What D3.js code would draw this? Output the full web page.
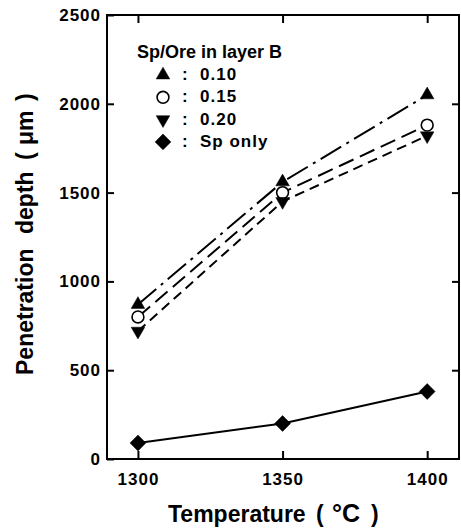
<!DOCTYPE html>
<html>
<head>
<meta charset="utf-8">
<script src="https://cdn.jsdelivr.net/npm/d3@7"></script>
<style>
  html, body { margin: 0; padding: 0; background: #fff; }
  svg { display: block; font-family: "Liberation Sans", Arial, sans-serif; font-weight: bold; }
</style>
</head>
<body>
<svg id="chart" width="461" height="531"></svg>
<script>
// Temperatures (°C) on the x axis
const temperatures = [1300, 1350, 1400];
// Penetration depth (µm) for each Sp/Ore ratio in layer B
const ratio010 = [870, 1560, 2050];
const ratio015 = [800, 1500, 1880];
const ratio020 = [720, 1450, 1820];
const spOnly = [90, 200, 380];
// Axis ticks
const xTicks = [1300, 1350, 1400];
const yTicks = [0, 500, 1000, 1500, 2000, 2500];
const legendLabels = ["0.10", "0.15", "0.20", "Sp only"];

const svg = d3.select("#chart");
const plotLeft = 107, plotRight = 459, plotTop = 15, plotBottom = 459;

const x = d3.scaleLinear().domain([1289.3, 1411]).range([plotLeft, plotRight]);
const y = d3.scaleLinear().domain([0, 2500]).range([plotBottom, plotTop]);

// Frame
svg.append("rect")
  .attr("x", plotLeft).attr("y", plotTop)
  .attr("width", plotRight - plotLeft).attr("height", plotBottom - plotTop)
  .attr("fill", "none").attr("stroke", "#000").attr("stroke-width", 2);

// Axes with inward ticks
const axisStyle = g => {
  g.select(".domain").remove();
  g.selectAll(".tick line").attr("stroke", "#000").attr("stroke-width", 2);
  g.selectAll(".tick text").attr("fill", "#000").attr("font-size", 17).attr("font-weight", "bold")
    .attr("letter-spacing", 1)
    .attr("font-family", "Liberation Sans, Arial, sans-serif");
};

svg.append("g").attr("transform", `translate(0,${plotBottom})`)
  .call(d3.axisBottom(x).tickValues(xTicks).tickSize(-8).tickPadding(14).tickFormat(d3.format("d")))
  .call(axisStyle);

svg.append("g").attr("transform", `translate(0,${plotTop})`)
  .call(d3.axisTop(x).tickValues(xTicks).tickSize(-8).tickFormat(""))
  .call(axisStyle);

svg.append("g").attr("transform", `translate(${plotLeft},0)`)
  .call(d3.axisLeft(y).tickValues(yTicks).tickSize(-7).tickPadding(6).tickFormat(d3.format("d")))
  .call(axisStyle);

svg.append("g").attr("transform", `translate(${plotRight},0)`)
  .call(d3.axisRight(y).tickValues(yTicks.slice(1, -1)).tickSize(-7).tickFormat(""))
  .call(axisStyle);

// Axis titles
const xTitle = svg.append("text").attr("y", 522).attr("font-size", 23);
[["Temperature", 168, 23], ["(", 316, 23], ["°C", 332, 25], [")", 371, 23]].forEach(([t, px, fs]) =>
  xTitle.append("tspan").attr("x", px).attr("font-size", fs).text(t));

const yTitle = svg.append("text")
  .attr("transform", "translate(33,0) rotate(-90)")
  .attr("font-size", 23);
[["Penetration", 375], ["depth", 234], ["(", 160], ["μm", 145], [")", 101]].forEach(([t, py]) =>
  yTitle.append("tspan").attr("x", -py).text(t));

// Series
const series = [
  { values: ratio010, dash: "24,6,3,6", symbol: d3.symbolTriangle, size: 80, rotate: 0, fill: "#000" },
  { values: ratio015, dash: "16,7", symbol: d3.symbolCircle, size: 110, rotate: 0, fill: "#fff" },
  { values: ratio020, dash: "10,6", symbol: d3.symbolTriangle, size: 80, rotate: 180, fill: "#000" },
  { values: spOnly, dash: null, symbol: d3.symbolSquare, size: 125, rotate: 45, fill: "#000" }
];

const line = d3.line().x(d => x(d[0])).y(d => y(d[1]));

series.forEach(s => {
  const pts = temperatures.map((t, i) => [t, s.values[i]]);
  svg.append("path")
    .attr("d", line(pts))
    .attr("fill", "none")
    .attr("stroke", "#000")
    .attr("stroke-width", 2)
    .attr("stroke-dasharray", s.dash);
});

series.forEach(s => {
  const pts = temperatures.map((t, i) => [t, s.values[i]]);
  svg.selectAll(null).data(pts).enter().append("path")
    .attr("d", d3.symbol().type(s.symbol).size(s.size))
    .attr("transform", d => `translate(${x(d[0])},${y(d[1])}) rotate(${s.rotate})`)
    .attr("fill", s.fill)
    .attr("stroke", "#000")
    .attr("stroke-width", s.fill === "#fff" ? 1.6 : 0.5);
});

// Legend
const legend = svg.append("g");
legend.append("text")
  .attr("x", 137).attr("y", 58)
  .attr("font-size", 18)
  .text("Sp/Ore in layer B");

series.forEach((s, i) => {
  const base = 80 + i * 22.3;
  legend.append("path")
    .attr("d", d3.symbol().type(s.symbol).size(s.size))
    .attr("transform", `translate(163,${base - 5}) rotate(${s.rotate})`)
    .attr("fill", s.fill)
    .attr("stroke", "#000")
    .attr("stroke-width", s.fill === "#fff" ? 1.6 : 0.5);
  legend.append("text")
    .attr("x", 182).attr("y", base)
    .attr("font-size", 17)
    .text(":");
  legend.append("text")
    .attr("x", 200).attr("y", base)
    .attr("font-size", 17)
    .attr("letter-spacing", 1)
    .text(legendLabels[i]);
});
</script>
</body>
</html>
